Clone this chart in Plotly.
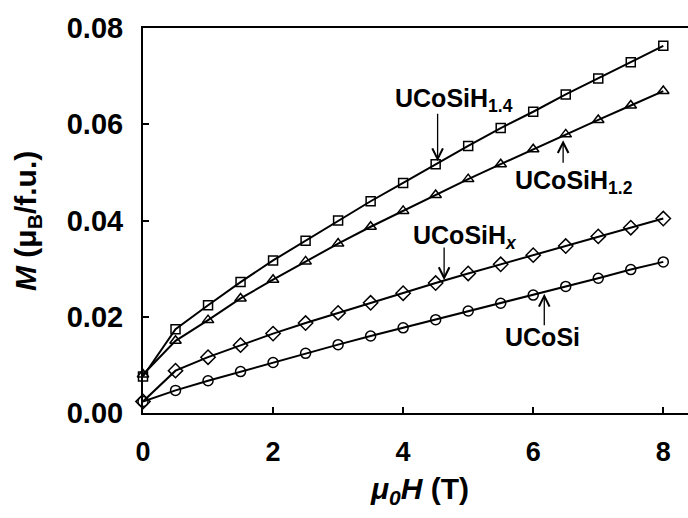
import plotly.graph_objects as go

field_T = [0, 0.5, 1, 1.5, 2, 2.5, 3, 3.5, 4, 4.5, 5, 5.5, 6, 6.5, 7, 7.5, 8]
m_ucosi = [0.0024, 0.0047, 0.0067, 0.0086, 0.0105, 0.0124, 0.0142, 0.0160, 0.0177,
           0.0194, 0.0212, 0.0228, 0.0245, 0.0263, 0.0280, 0.0298, 0.0314]
m_ucosihx = [0.0024, 0.0088, 0.0116, 0.0141, 0.0165, 0.0187, 0.0208, 0.0229, 0.0249,
             0.0270, 0.0290, 0.0309, 0.0328, 0.0347, 0.0367, 0.0385, 0.0404]
m_ucosih12 = [0.0080, 0.0150, 0.0193, 0.0238, 0.0277, 0.0315, 0.0352, 0.0387, 0.0420,
              0.0453, 0.0486, 0.0517, 0.0548, 0.0579, 0.0609, 0.0639, 0.0669]
m_ucosih14 = [0.0076, 0.0174, 0.0224, 0.0272, 0.0317, 0.0358, 0.0400, 0.0440, 0.0478,
              0.0517, 0.0555, 0.0592, 0.0626, 0.0662, 0.0695, 0.0729, 0.0763]

x_ticks = [0, 2, 4, 6, 8]
y_ticks = [0.00, 0.02, 0.04, 0.06, 0.08]

# label: (text, text_x, text_y, arrow_x, tail_y, head_y)
labels = [
    ("UCoSiH<sub>1.4</sub>", 4.78, 0.0650, 4.53, 0.0625, 0.0523),
    ("UCoSiH<sub>1.2</sub>", 6.62, 0.0480, 6.46, 0.0517, 0.0567),
    ("UCoSiH<sub><i>x</i></sub>", 4.95, 0.0366, 4.63, 0.0347, 0.0276),
    ("UCoSi", 6.15, 0.0158, 6.17, 0.0179, 0.0248),
]

FONT = "Liberation Sans, Arial, sans-serif"

fig = go.Figure()
series = [
    (m_ucosi, "circle-open", 10),
    (m_ucosihx, "diamond-open", 11),
    (m_ucosih12, "triangle-up-open", 10),
    (m_ucosih14, "square-open", 9),
]
for vals, sym, sz in series:
    fig.add_trace(go.Scatter(
        x=field_T, y=vals, mode="lines+markers",
        line=dict(color="black", width=2),
        marker=dict(symbol=sym, size=sz, color="black", line=dict(color="black", width=1.5)),
        showlegend=False, cliponaxis=False,
    ))

annotations = []
for text, tx, ty, axx, tail, head in labels:
    annotations.append(dict(
        x=tx, y=ty, xref="x", yref="y", text="<b>" + text + "</b>", showarrow=False,
        font=dict(family=FONT, size=25, color="black"), xanchor="center", yanchor="middle",
    ))
    annotations.append(dict(
        x=axx, y=head, ax=axx, ay=tail, xref="x", yref="y", axref="x", ayref="y",
        text="", showarrow=True, arrowhead=5, arrowsize=1.6, arrowwidth=1.3,
        arrowcolor="black", standoff=0, startstandoff=0,
    ))

annotations.append(dict(
    x=0.507, y=-0.2, xref="paper", yref="paper",
    text="<b><i>μ<sub>0</sub>H</i> (T)</b>", showarrow=False,
    font=dict(family=FONT, size=30, color="black"), xanchor="center", yanchor="middle",
))
annotations.append(dict(
    x=-0.212, y=0.5, xref="paper", yref="paper", textangle=-90,
    text="<b><i>M</i> (μ<sub>B</sub>/f.u.)</b>", showarrow=False,
    font=dict(family=FONT, size=30, color="black"), xanchor="center", yanchor="middle",
))

fig.update_layout(
    width=688, height=518,
    margin=dict(l=143, r=0, t=28, b=105),
    paper_bgcolor="white", plot_bgcolor="white",
    annotations=annotations,
    xaxis=dict(
        range=[0, 8.38], tickvals=x_ticks, ticktext=[str(v) for v in x_ticks],
        ticks="inside", ticklen=6, tickwidth=1.5, tickcolor="black",
        showline=True, linecolor="black", linewidth=2, mirror=True,
        showgrid=False, zeroline=False,
        tickfont=dict(family=FONT, size=27, color="black", weight="bold"),
        ticklabelstandoff=14,
    ),
    yaxis=dict(
        range=[0, 0.08], tickvals=y_ticks, ticktext=["%.2f" % v for v in y_ticks],
        ticks="inside", ticklen=6, tickwidth=1.5, tickcolor="black",
        showline=True, linecolor="black", linewidth=2,
        showgrid=False, zeroline=False,
        tickfont=dict(family=FONT, size=29, color="black", weight="bold"),
        ticklabelstandoff=12,
    ),
)

fig.write_html(
    "out.html",
    config={"displayModeBar": False},
    post_script="document.body.style.margin='0px';document.body.style.overflow='hidden';",
)
